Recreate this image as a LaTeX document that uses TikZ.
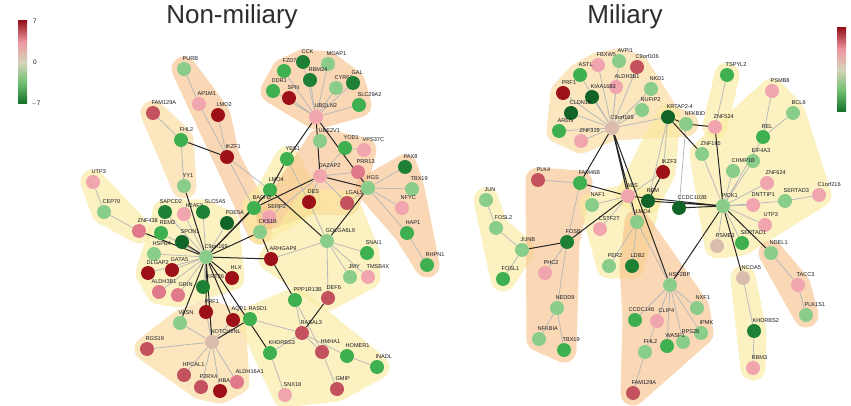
\documentclass[tikz,border=0pt]{standalone}
\usepackage{fontspec}
\setmainfont{Liberation Sans}
\usepackage{tikz}
\usetikzlibrary{shadings}
\definecolor{gdr}{RGB}{158,16,24}
\definecolor{grd}{RGB}{196,82,94}
\definecolor{grp}{RGB}{224,122,138}
\definecolor{gpk}{RGB}{240,165,175}
\definecolor{gbg}{RGB}{218,188,172}
\definecolor{glg}{RGB}{138,204,138}
\definecolor{ggn}{RGB}{62,176,80}
\definecolor{gdg}{RGB}{30,128,52}
\definecolor{gvg}{RGB}{16,100,40}
\definecolor{hpeach}{RGB}{247,192,135}
\definecolor{hcream}{RGB}{248,214,150}
\definecolor{hyell}{RGB}{250,234,155}
\definecolor{edgegray}{RGB}{185,185,185}
\definecolor{labtext}{RGB}{25,25,35}
\definecolor{titlegray}{RGB}{45,45,45}
\definecolor{cbtop}{RGB}{150,18,28}
\definecolor{cbpink}{RGB}{236,150,160}
\definecolor{cbmid}{RGB}{212,212,186}
\definecolor{cblg}{RGB}{110,190,110}
\definecolor{cbbot}{RGB}{18,110,42}
\pgfdeclareverticalshading{fcscale}{100bp}{color(0bp)=(cbbot); color(25bp)=(cbbot); color(37.5bp)=(cblg); color(50bp)=(cbmid); color(62.5bp)=(cbpink); color(75bp)=(cbtop); color(100bp)=(cbtop)}
\pgfdeclarelayer{bg}
\pgfdeclarelayer{edges}
\pgfsetlayers{bg,edges,main}

\begin{document}
\begin{tikzpicture}[
  x=1pt, y=-1pt,
  every node/.style={font=\fontsize{5.6}{6}\selectfont},
  gene/.style={circle, fill=#1, inner sep=0pt, minimum size=14pt},
  lab/.style={anchor=south west, xshift=-2pt, yshift=1pt, inner sep=0.4pt, text=labtext},
  gline/.style={draw=edgegray, line width=0.8pt},
  bline/.style={draw=black!85, line width=1pt},
  hull/.style={draw=#1, fill=#1, line width=25pt, line join=round},
  hullgrp/.style={transparency group, opacity=0.62},
  title/.style={font=\fontsize{26}{30}\selectfont, text=titlegray},
  cbar/.style={shade, shading=fcscale, minimum width=9pt, minimum height=83pt, inner sep=0pt},
  tick/.style={font=\fontsize{6.5}{7}\selectfont, anchor=west, inner sep=0pt, text=labtext}
]
\useasboundingbox (0,0) rectangle (851,406);

% Titoli e scale di colore
\node[title] (ttlNon) at (232,17) {Non-miliary};
\node[title] (ttlMil) at (625,17) {Miliary};
\node[cbar] (barNon) at (22.5,62.5) {};
\node[tick] (tkTop) at (33,21) {7};
\node[tick] (tkMid) at (33,62) {0};
\node[tick] (tkBot) at (31,104) {$-$7};
\node[cbar, minimum height=84pt] (barMil) at (841.5,70) {};

% ---------------- Non-miliary: nodi ----------------
\node[gene=ggn, label={[lab]north:FZD7}] (nFZD7) at (284,71) {};
\node[gene=gdg, label={[lab]north:CCK}] (nCCK) at (303,62) {};
\node[gene=glg, label={[lab]north:MOAP1}] (nMOAP1) at (328,64) {};
\node[gene=gdg, label={[lab]north:RBM24}] (nRBM24) at (310,80) {};
\node[gene=ggn, label={[lab]north:DDR1}] (nDDR1) at (273,91) {};
\node[gene=gdr, label={[lab]north:SPN}] (nSPN) at (289,98) {};
\node[gene=glg, label={[lab]north:CYR61}] (nCYR61) at (336,88) {};
\node[gene=gdg, label={[lab]north:GAL}] (nGAL) at (353,83) {};
\node[gene=ggn, label={[lab]north:SLC29A2}] (nSLC29A2) at (359,105) {};
\node[gene=gpk, label={[lab]north:UBQLN2}] (nUBQLN2) at (316,117) {};

\node[gene=glg, label={[lab]north:PURB}] (nPURB) at (184,69) {};
\node[gene=gpk, label={[lab]north:AP1M1}] (nAP1M1) at (199,104) {};
\node[gene=gdr, label={[lab]north:LMO2}] (nLMO2) at (218,115) {};
\node[gene=grd, label={[lab]north:FAM129A}] (nFAM129A) at (153,113) {};
\node[gene=ggn, label={[lab]north:FHL2}] (nFHL2) at (181,140) {};
\node[gene=gdr, label={[lab]north:IKZF1}] (nIKZF1) at (227,157) {};
\node[gene=glg, label={[lab]north:YY1}] (nYY1) at (184,186) {};
\node[gene=gpk, label={[lab]north:UTP3}] (nUTP3) at (93,182) {};
\node[gene=glg, label={[lab]north:CEP70}] (nCEP70) at (104,212) {};
\node[gene=grp, label={[lab]north:ZNF438}] (nZNF438) at (139,231) {};

\node[gene=gdg, label={[lab, xshift=-4pt]north:SAPCD2}] (nSAPCD2) at (165,212) {};
\node[gene=gpk, label={[lab, xshift=3pt, yshift=-2pt]north:H2AFY}] (nH2AFY) at (184,214) {};
\node[gene=gdg, label={[lab, xshift=3pt]north:SLC5A5}] (nSLC5A5) at (203,212) {};
\node[gene=gvg, label={[lab]north:PDE5A}] (nPDE5A) at (227,223) {};
\node[gene=ggn, label={[lab]north:REM2}] (nREM2) at (161,233) {};
\node[gene=gvg, label={[lab]north:SPON1}] (nSPON1) at (182,242) {};
\node[gene=glg, label={[lab]north:HSPB4}] (nHSPB4) at (154,254) {};
\node[gene=gdr, label={[lab]north:GATA5}] (nGATA5) at (172,270) {};
\node[gene=gdr, label={[lab]north:DLGAP2}] (nDLGAP2) at (148,273) {};
\node[gene=grp, label={[lab, xshift=-6pt]north:ALDH3B1}] (nALDH3B1) at (159,292) {};
\node[gene=grp, label={[lab, xshift=2pt]north:GRIN}] (nGRIN) at (178,295) {};
\node[gene=gdg, label={[lab, xshift=5pt]north:KRT36}] (nKRT36) at (203,287) {};
\node[gene=glg, label={[lab]north:C9orf169}] (nC9orf169) at (206,257) {};
\node[gene=gdr, label={[lab]north:HLX}] (nHLX) at (232,278) {};

\node[gene=gdr, label={[lab]north:PRF1}] (nPRF1) at (206,312) {};
\node[gene=glg, label={[lab]north:VASN}] (nVASN) at (180,323) {};
\node[gene=gdr, label={[lab]north:AQP1}] (nAQP1) at (233,320) {};
\node[gene=gbg, label={[lab]north:NOTCH2NL}] (nNOTCH2NL) at (212,342) {};
\node[gene=grd, label={[lab]north:RGS19}] (nRGS19) at (147,349) {};
\node[gene=grd, label={[lab]north:HPCAL1}] (nHPCAL1) at (184,375) {};
\node[gene=grd, label={[lab]north:P2RX4}] (nP2RX4) at (201,387) {};
\node[gene=gdr, label={[lab]north:HBA1}] (nHBA1) at (220,391) {};
\node[gene=grp, label={[lab]north:ALDH16A1}] (nALDH16A1) at (237,382) {};

\node[gene=ggn, label={[lab]north:YES1}] (nYES1) at (287,159) {};
\node[gene=ggn, label={[lab]north:LMO4}] (nLMO4) at (270,190) {};
\node[gene=ggn, label={[lab]north:BACH2}] (nBACH2) at (254,208) {};
\node[gene=gpk, label={[lab]north:SERP2}] (nSERP2) at (269,217) {};
\node[gene=glg, label={[lab]north:CKS1B}] (nCKS1B) at (260,232) {};
\node[gene=gdr, label={[lab]north:DES}] (nDES) at (309,202) {};
\node[gene=glg, label={[lab]north:UBE2V1}] (nUBE2V1) at (320,141) {};
\node[gene=ggn, label={[lab]north:YOD1}] (nYOD1) at (345,148) {};
\node[gene=gpk, label={[lab]north:VPS37C}] (nVPS37C) at (364,150) {};
\node[gene=gpk, label={[lab]north:DAZAP2}] (nDAZAP2) at (320,176) {};
\node[gene=grp, label={[lab]north:PRR13}] (nPRR13) at (358,172) {};
\node[gene=grd, label={[lab]north:LGALS9}] (nLGALS9) at (347,203) {};

\node[gene=glg, label={[lab]north:HGS}] (nHGS) at (368,188) {};
\node[gene=gdg, label={[lab]north:PAX8}] (nPAX8) at (405,167) {};
\node[gene=glg, label={[lab]north:TBX19}] (nTBX19) at (412,189) {};
\node[gene=gpk, label={[lab]north:NFYC}] (nNFYC) at (402,208) {};
\node[gene=ggn, label={[lab]north:HAP1}] (nHAP1) at (407,233) {};
\node[gene=ggn, label={[lab]north:RHPN1}] (nRHPN1) at (427,265) {};

\node[gene=glg, label={[lab]north:GOLGA6L9}] (nGOLGA6L9) at (327,241) {};
\node[gene=gdr, label={[lab]north:ARHGAP9}] (nARHGAP9) at (271,259) {};
\node[gene=ggn, label={[lab]north:SNAI1}] (nSNAI1) at (367,253) {};
\node[gene=glg, label={[lab]north:JMY}] (nJMY) at (350,277) {};
\node[gene=gpk, label={[lab]north:TMSB4X}] (nTMSB4X) at (368,277) {};
\node[gene=grd, label={[lab]north:DEF6}] (nDEF6) at (328,298) {};

\node[gene=ggn, label={[lab]north:PPP1R13B}] (nPPP1R13B) at (295,300) {};
\node[gene=ggn, label={[lab]north:RASD1}] (nRASD1) at (250,319) {};
\node[gene=grd, label={[lab]north:RASAL3}] (nRASAL3) at (302,333) {};
\node[gene=ggn, label={[lab]north:KHDRBS3}] (nKHDRBS3) at (270,353) {};
\node[gene=grd, label={[lab]north:HMHA1}] (nHMHA1) at (322,352) {};
\node[gene=ggn, label={[lab]north:HOMER1}] (nHOMER1) at (347,356) {};
\node[gene=ggn, label={[lab]north:INADL}] (nINADL) at (377,367) {};
\node[gene=gpk, label={[lab]north:SNX18}] (nSNX18) at (285,395) {};
\node[gene=grd, label={[lab]north:GMIP}] (nGMIP) at (337,389) {};

% ---------------- Miliary: nodi ----------------
\node[gene=gpk, label={[lab]north:FBXW5}] (mFBXW5) at (598,65) {};
\node[gene=glg, label={[lab]north:AVPI1}] (mAVPI1) at (619,61) {};
\node[gene=grd, label={[lab]north:C9orf106}] (mC9orf106) at (637,67) {};
\node[gene=ggn, label={[lab]north:ASTL}] (mASTL) at (580,75) {};
\node[gene=gpk, label={[lab]north:ALDH3B1}] (mALDH3B1) at (616,87) {};
\node[gene=gvg, label={[lab]north:KIAA1683}] (mKIAA1683) at (592,97) {};
\node[gene=gdr, label={[lab]north:PRF1}] (mPRF1) at (563,93) {};
\node[gene=gvg, label={[lab]north:CLDN19}] (mCLDN19) at (571,113) {};
\node[gene=ggn, label={[lab]north:AREG}] (mAREG) at (559,131) {};
\node[gene=gpk, label={[lab]north:ZNF319}] (mZNF319) at (581,141) {};
\node[gene=gbg, label={[lab]north:C9orf169}] (mC9orf169) at (612,128) {};
\node[gene=glg, label={[lab]north:NKD1}] (mNKD1) at (651,89) {};
\node[gene=glg, label={[lab]north:NUFIP2}] (mNUFIP2) at (642,110) {};
\node[gene=gvg, label={[lab]north:KRTAP2-4}] (mKRTAP) at (668,117) {};
\node[gene=glg, label={[lab]north:NFKBID}] (mNFKBID) at (686,124) {};
\node[gene=gpk, label={[lab]north:ZNF524}] (mZNF524) at (715,127) {};
\node[gene=glg, label={[lab]north:ZNF165}] (mZNF165) at (702,154) {};
\node[gene=ggn, label={[lab]north:TSPYL2}] (mTSPYL2) at (727,75) {};

\node[gene=gpk, label={[lab]north:PSMB8}] (mPSMB8) at (772,91) {};
\node[gene=glg, label={[lab]north:BCL6}] (mBCL6) at (793,113) {};
\node[gene=ggn, label={[lab]north:REL}] (mREL) at (763,137) {};
\node[gene=glg, label={[lab]north:EIF4A3}] (mEIF4A3) at (753,161) {};
\node[gene=glg, label={[lab]north:CHMP1B}] (mCHMP1B) at (733,171) {};
\node[gene=gpk, label={[lab]north:ZNF624}] (mZNF624) at (767,183) {};
\node[gene=gpk, label={[lab]north:C1orf216}] (mC1orf216) at (819,195) {};
\node[gene=glg, label={[lab]north:SERTAD3}] (mSERTAD3) at (785,201) {};
\node[gene=gpk, label={[lab]north:DNTTIP1}] (mDNTTIP1) at (753,205) {};
\node[gene=glg, label={[lab]north:PICK1}] (mPICK1) at (723,206) {};
\node[gene=gpk, label={[lab]north:UTP3}] (mUTP3) at (765,225) {};
\node[gene=ggn, label={[lab]north:SERTAD1}] (mSERTAD1) at (742,243) {};
\node[gene=gbg, label={[lab]north:PSME3}] (mPSME3) at (717,246) {};
\node[gene=glg, label={[lab]north:NDEL1}] (mNDEL1) at (771,253) {};
\node[gene=gbg, label={[lab]north:NCOA5}] (mNCOA5) at (743,278) {};
\node[gene=gpk, label={[lab]north:TACC3}] (mTACC3) at (798,285) {};
\node[gene=glg, label={[lab]north:PLK1S1}] (mPLK1S1) at (806,315) {};
\node[gene=gdg, label={[lab]north:KHDRBS2}] (mKHDRBS2) at (754,331) {};
\node[gene=gpk, label={[lab]north:RBM3}] (mRBM3) at (753,368) {};

\node[gene=glg, label={[lab]north:HSF2BP}] (mHSF2BP) at (670,285) {};
\node[gene=glg, label={[lab]north:NXF1}] (mNXF1) at (697,308) {};
\node[gene=glg, label={[lab]north:IPMK}] (mIPMK) at (701,333) {};
\node[gene=glg, label={[lab]north:RPS28}] (mRPS28) at (683,342) {};
\node[gene=ggn, label={[lab]north:WASF1}] (mWASF1) at (667,346) {};
\node[gene=gpk, label={[lab, xshift=3pt]north:CLIP4}] (mCLIP4) at (657,321) {};
\node[gene=ggn, label={[lab, xshift=-5pt]north:CCDC146}] (mCCDC146) at (635,320) {};
\node[gene=glg, label={[lab]north:FHL2}] (mFHL2) at (645,352) {};
\node[gene=grd, label={[lab]north:FAM129A}] (mFAM129A) at (633,393) {};

\node[gene=gdr, label={[lab]north:IKZF3}] (mIKZF3) at (663,172) {};
\node[gene=ggn, label={[lab]north:FAM46B}] (mFAM46B) at (580,183) {};
\node[gene=gpk, label={[lab]north:AES}] (mAES) at (628,196) {};
\node[gene=gvg, label={[lab]north:REM}] (mREM) at (648,201) {};
\node[gene=gvg, label={[lab]north:CCDC102B}] (mCCDC102B) at (679,208) {};
\node[gene=glg, label={[lab]north:NAF1}] (mNAF1) at (592,205) {};
\node[gene=glg, label={[lab]north:LMO4}] (mLMO4) at (637,222) {};
\node[gene=gpk, label={[lab]north:CSTF2T}] (mCSTF2T) at (600,229) {};
\node[gene=gdg, label={[lab]north:FOSB}] (mFOSB) at (567,242) {};
\node[gene=glg, label={[lab]north:PER2}] (mPER2) at (609,266) {};
\node[gene=gdg, label={[lab]north:LDB2}] (mLDB2) at (632,266) {};

\node[gene=grd, label={[lab]north:PLK4}] (mPLK4) at (538,180) {};
\node[gene=glg, label={[lab]north:JUN}] (mJUN) at (486,200) {};
\node[gene=glg, label={[lab]north:FOSL2}] (mFOSL2) at (496,228) {};
\node[gene=glg, label={[lab]north:JUNB}] (mJUNB) at (522,250) {};
\node[gene=ggn, label={[lab]north:FOSL1}] (mFOSL1) at (503,279) {};
\node[gene=gpk, label={[lab]north:PHC2}] (mPHC2) at (545,273) {};
\node[gene=glg, label={[lab]north:NEDD9}] (mNEDD9) at (557,308) {};
\node[gene=glg, label={[lab]north:NFKBIA}] (mNFKBIA) at (539,339) {};
\node[gene=ggn, label={[lab]north:TBX19}] (mTBX19) at (564,350) {};

% ---------------- Aree dei moduli ----------------
\begin{pgfonlayer}{bg}
  % non-miliary
  \begin{scope}[hullgrp]\path[hull=hpeach] (nDDR1.center) -- (nFZD7.center) -- (nCCK.center) -- (nMOAP1.center) -- (nGAL.center) -- (nSLC29A2.center) -- (nUBQLN2.center) -- cycle;\end{scope}
  \begin{scope}[hullgrp]\path[hull=hpeach] (nPURB.center) -- (nLMO2.center) -- (nIKZF1.center) -- (nBACH2.center) -- (nCKS1B.center) -- cycle;\end{scope}
  \begin{scope}[hullgrp]\path[hull=hcream] (nFAM129A.center) -- (nFHL2.center) -- (nYY1.center) -- cycle;\end{scope}
  \begin{scope}[hullgrp]\path[hull=hyell] (nUTP3.center) -- (nCEP70.center) -- (nZNF438.center) -- cycle;\end{scope}
  \begin{scope}[hullgrp]\path[hull=hyell] (nSAPCD2.center) -- (nSLC5A5.center) -- (nPDE5A.center) -- (nHLX.center) -- (nKRT36.center) -- (nGRIN.center) -- (nALDH3B1.center) -- (nDLGAP2.center) -- (nHSPB4.center) -- (nREM2.center) -- cycle;\end{scope}
  \begin{scope}[hullgrp]\path[hull=hcream] (nRGS19.center) -- (nVASN.center) -- (nPRF1.center) -- (nAQP1.center) -- (nALDH16A1.center) -- (nHBA1.center) -- (nP2RX4.center) -- (nHPCAL1.center) -- cycle;\end{scope}
  \begin{scope}[hullgrp]\path[hull=hyell] (nYES1.center) -- (nDES.center) -- (nCKS1B.center) -- (nBACH2.center) -- (nLMO4.center) -- cycle;\end{scope}
  \begin{scope}[hullgrp]\path[hull=hpeach] (nUBE2V1.center) -- (nVPS37C.center) -- (nPRR13.center) -- (nLGALS9.center) -- (nDES.center) -- (nSERP2.center) -- cycle;\end{scope}
  \begin{scope}[hullgrp]\path[hull=hpeach] (nHGS.center) -- (nPAX8.center) -- (nTBX19.center) -- (nRHPN1.center) -- (nHAP1.center) -- cycle;\end{scope}
  \begin{scope}[hullgrp]\path[hull=hyell] (nDES.center) -- (nLGALS9.center) -- (nSNAI1.center) -- (nTMSB4X.center) -- (nDEF6.center) -- (nARHGAP9.center) -- cycle;\end{scope}
  \begin{scope}[hullgrp]\path[hull=hyell] (nRASD1.center) -- (nPPP1R13B.center) -- (nINADL.center) -- (nGMIP.center) -- (nSNX18.center) -- cycle;\end{scope}
  % miliary
  \begin{scope}[hullgrp]\path[hull=hcream] (mFBXW5.center) -- (mAVPI1.center) -- (mC9orf106.center) -- (mNKD1.center) -- (mKRTAP.center) -- (mNFKBID.center) -- (mC9orf169.center) -- (mZNF319.center) -- (mAREG.center) -- (mPRF1.center) -- (mASTL.center) -- cycle;\end{scope}
  \begin{scope}[hullgrp]\path[hull=hyell] (mKRTAP.center) -- (mIKZF3.center) -- (mREM.center) -- (mAES.center) -- cycle;\end{scope}
  \begin{scope}[hullgrp]\path[hull=hyell] (mTSPYL2.center) -- (mZNF524.center) -- cycle;\end{scope}
  \begin{scope}[hullgrp]\path[hull=hyell] (mPSMB8.center) -- (mBCL6.center) -- (mC1orf216.center) -- (mSERTAD1.center) -- (mPSME3.center) -- (mZNF165.center) -- cycle;\end{scope}
  \begin{scope}[hullgrp]\path[hull=hyell] (mNCOA5.center) -- (mKHDRBS2.center) -- (mRBM3.center) -- cycle;\end{scope}
  \begin{scope}[hullgrp]\path[hull=hpeach] (mNDEL1.center) -- (mTACC3.center) -- (mPLK1S1.center) -- cycle;\end{scope}
  \begin{scope}[hullgrp]\path[hull=hyell] (mJUN.center) -- (mFOSL2.center) -- (mJUNB.center) -- (mFOSL1.center) -- cycle;\end{scope}
  \begin{scope}[hullgrp]\path[hull=hpeach] (mPLK4.center) -- (mFAM46B.center) -- (mFOSB.center) -- (mTBX19.center) -- (mNFKBIA.center) -- cycle;\end{scope}
  \begin{scope}[hullgrp]\path[hull=hyell] (mAES.center) -- (mREM.center) -- (mLDB2.center) -- (mPER2.center) -- (mNAF1.center) -- cycle;\end{scope}
  \begin{scope}[hullgrp]\path[hull=hpeach] (mLMO4.center) -- (mNXF1.center) -- (mIPMK.center) -- (mFAM129A.center) -- (mCCDC146.center) -- (mLDB2.center) -- cycle;\end{scope}
\end{pgfonlayer}

% ---------------- Collegamenti ----------------
\begin{pgfonlayer}{edges}
  % non-miliary, dentro i moduli
  \draw[gline] (nUBQLN2) -- (nFZD7) (nUBQLN2) -- (nCCK) (nUBQLN2) -- (nMOAP1) (nUBQLN2) -- (nRBM24)
    (nUBQLN2) -- (nDDR1) (nUBQLN2) -- (nSPN) (nUBQLN2) -- (nCYR61) (nUBQLN2) -- (nGAL) (nUBQLN2) -- (nSLC29A2);
  \draw[gline] (nPURB) -- (nAP1M1) (nAP1M1) -- (nIKZF1) (nLMO2) -- (nIKZF1) (nIKZF1) -- (nLMO4) (nIKZF1) -- (nBACH2);
  \draw[gline] (nFAM129A) -- (nFHL2) (nFHL2) -- (nYY1) (nUTP3) -- (nCEP70) (nCEP70) -- (nZNF438);
  \draw[gline] (nC9orf169) -- (nSAPCD2) (nC9orf169) -- (nSLC5A5) (nC9orf169) -- (nREM2) (nC9orf169) -- (nHSPB4)
    (nC9orf169) -- (nGATA5) (nC9orf169) -- (nDLGAP2) (nC9orf169) -- (nALDH3B1) (nC9orf169) -- (nGRIN)
    (nC9orf169) -- (nKRT36) (nC9orf169) -- (nPDE5A) (nC9orf169) -- (nH2AFY);
  \draw[gline] (nNOTCH2NL) -- (nVASN) (nNOTCH2NL) -- (nRGS19) (nNOTCH2NL) -- (nHPCAL1) (nNOTCH2NL) -- (nP2RX4)
    (nNOTCH2NL) -- (nHBA1) (nNOTCH2NL) -- (nALDH16A1) (nNOTCH2NL) -- (nPRF1) (nNOTCH2NL) -- (nAQP1);
  \draw[gline] (nRASD1) -- (nRASAL3) (nPPP1R13B) -- (nRASAL3) (nPPP1R13B) -- (nHMHA1) (nRASAL3) -- (nKHDRBS3)
    (nRASAL3) -- (nHMHA1) (nRASAL3) -- (nHOMER1) (nHOMER1) -- (nINADL) (nHMHA1) -- (nGMIP) (nKHDRBS3) -- (nSNX18);
  \draw[gline] (nGOLGA6L9) -- (nSNAI1) (nGOLGA6L9) -- (nJMY) (nGOLGA6L9) -- (nTMSB4X) (nGOLGA6L9) -- (nDEF6)
    (nGOLGA6L9) -- (nARHGAP9) (nGOLGA6L9) -- (nDES);
  \draw[gline] (nLMO4) -- (nBACH2) (nYES1) -- (nDES) (nBACH2) -- (nSERP2) (nSERP2) -- (nCKS1B);
  \draw[gline] (nDAZAP2) -- (nYOD1) (nDAZAP2) -- (nPRR13) (nDAZAP2) -- (nLGALS9) (nDAZAP2) -- (nDES)
    (nDAZAP2) -- (nSERP2) (nYOD1) -- (nVPS37C);
  \draw[gline] (nHGS) -- (nPAX8) (nHGS) -- (nTBX19) (nHGS) -- (nNFYC) (nHGS) -- (nHAP1) (nHGS) -- (nLGALS9)
    (nHGS) -- (nPRR13) (nHAP1) -- (nRHPN1);
  % non-miliary, tra i moduli
  \draw[bline] (nFHL2) -- (nIKZF1) (nYY1) -- (nC9orf169) (nZNF438) -- (nC9orf169) (nSPON1) -- (nC9orf169);
  \draw[bline] (nC9orf169) -- (nBACH2) (nC9orf169) -- (nCKS1B) (nC9orf169) -- (nLMO4) (nC9orf169) -- (nARHGAP9)
    (nC9orf169) -- (nHLX) (nC9orf169) -- (nPRF1) (nC9orf169) -- (nVASN) (nC9orf169) -- (nAQP1)
    (nC9orf169) -- (nKHDRBS3) (nC9orf169) -- (nNOTCH2NL);
  \draw[bline] (nNOTCH2NL) -- (nRASD1) (nARHGAP9) -- (nPPP1R13B) (nDEF6) -- (nRASAL3) (nCKS1B) -- (nARHGAP9);
  \draw[bline] (nLMO4) -- (nGOLGA6L9) (nHGS) -- (nGOLGA6L9) (nYES1) -- (nLMO4);
  \draw[bline] (nUBQLN2) -- (nYES1) (nUBQLN2) -- (nDAZAP2) (nUBQLN2) -- (nHGS) (nDAZAP2) -- (nBACH2) (nDAZAP2) -- (nHGS);

  % miliary, dentro i moduli
  \draw[gline] (mC9orf169) -- (mFBXW5) (mC9orf169) -- (mAVPI1) (mC9orf169) -- (mC9orf106) (mC9orf169) -- (mASTL)
    (mC9orf169) -- (mALDH3B1) (mC9orf169) -- (mKIAA1683) (mC9orf169) -- (mCLDN19) (mC9orf169) -- (mPRF1)
    (mC9orf169) -- (mAREG) (mC9orf169) -- (mZNF319) (mC9orf169) -- (mNKD1) (mC9orf169) -- (mNUFIP2)
    (mC9orf169) -- (mKRTAP);
  \draw[gline] (mKRTAP) -- (mIKZF3) (mKRTAP) -- (mREM) (mNFKBID) -- (mCCDC102B) (mZNF524) -- (mTSPYL2)
    (mZNF165) -- (mPICK1) (mIKZF3) -- (mAES);
  \draw[gline] (mAES) -- (mNAF1) (mAES) -- (mCSTF2T) (mAES) -- (mLMO4) (mLMO4) -- (mPER2) (mLMO4) -- (mLDB2)
    (mLMO4) -- (mHSF2BP);
  \draw[gline] (mFAM46B) -- (mPLK4) (mFAM46B) -- (mFOSB) (mFOSB) -- (mPHC2) (mFOSB) -- (mNEDD9)
    (mNEDD9) -- (mNFKBIA) (mNEDD9) -- (mTBX19);
  \draw[gline] (mJUN) -- (mFOSL2) (mFOSL2) -- (mJUNB) (mJUNB) -- (mFOSL1);
  \draw[gline] (mHSF2BP) -- (mNXF1) (mHSF2BP) -- (mIPMK) (mHSF2BP) -- (mRPS28) (mHSF2BP) -- (mWASF1)
    (mHSF2BP) -- (mCLIP4) (mHSF2BP) -- (mCCDC146) (mHSF2BP) -- (mFHL2) (mFHL2) -- (mFAM129A);
  \draw[gline] (mPICK1) -- (mCHMP1B) (mPICK1) -- (mEIF4A3) (mPICK1) -- (mREL) (mPICK1) -- (mZNF624)
    (mPICK1) -- (mDNTTIP1) (mPICK1) -- (mSERTAD3) (mPICK1) -- (mUTP3) (mPICK1) -- (mSERTAD1)
    (mPICK1) -- (mPSME3) (mREL) -- (mPSMB8) (mREL) -- (mBCL6) (mSERTAD3) -- (mC1orf216);
  \draw[gline] (mNCOA5) -- (mKHDRBS2) (mKHDRBS2) -- (mRBM3) (mNDEL1) -- (mTACC3) (mTACC3) -- (mPLK1S1);
  % miliary, tra i moduli
  \draw[bline] (mC9orf169) -- (mFAM46B) (mC9orf169) -- (mAES) (mC9orf169) -- (mLMO4) (mC9orf169) -- (mHSF2BP);
  \draw[bline] (mKRTAP) -- (mNFKBID) (mKRTAP) -- (mZNF165) (mNFKBID) -- (mZNF524) (mZNF524) -- (mPICK1)
    (mIKZF3) -- (mREM);
  \draw[bline] (mAES) -- (mFAM46B) (mAES) -- (mFOSB) (mAES) -- (mPICK1) (mREM) -- (mPICK1)
    (mCCDC102B) -- (mPICK1) (mFOSB) -- (mJUNB);
  \draw[bline] (mPICK1) -- (mHSF2BP) (mPICK1) -- (mNCOA5) (mPICK1) -- (mNDEL1);
\end{pgfonlayer}

\end{tikzpicture}
\end{document}
